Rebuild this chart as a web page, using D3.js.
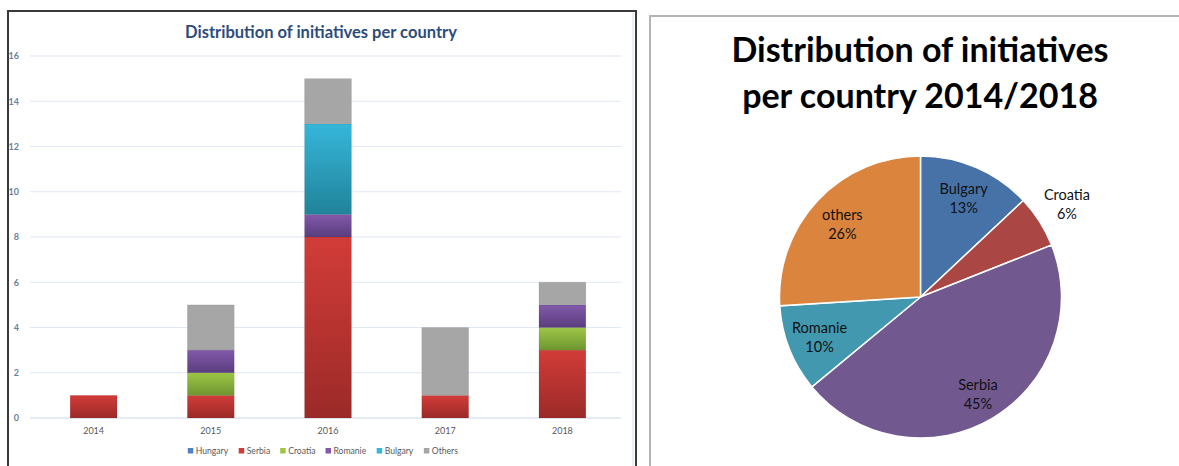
<!DOCTYPE html>
<html>
<head>
<meta charset="utf-8">
<script src="https://cdn.jsdelivr.net/npm/d3@7"></script>
<style>
	body { margin: 0; background: #fff; }
	svg { display: block; font-family: Lato, "Open Sans", sans-serif; }
</style>
</head>
<body>
<div id="chart"></div>
<script>
// bar chart data (initiatives per year, stacked by country)
var years = ["2014", "2015", "2016", "2017", "2018"];
var countries = ["Hungary", "Serbia", "Croatia", "Romanie", "Bulgary", "Others"];
var hungary = [0, 0, 0, 0, 0];
var serbia = [1, 1, 8, 1, 3];
var croatia = [0, 1, 0, 0, 1];
var romanie = [0, 1, 1, 0, 1];
var bulgary = [0, 0, 4, 0, 0];
var others = [0, 2, 2, 3, 1];
var yTicks = [0, 2, 4, 6, 8, 10, 12, 14, 16];

// pie data (share 2014/2018, percent)
var pieNames = ["Bulgary", "Croatia", "Serbia", "Romanie", "others"];
var pieShares = [13, 6, 45, 10, 26];

var W = 1179, H = 466;
var svg = d3.select("#chart").append("svg")
	.attr("width", W)
	.attr("height", H);

var defs = svg.append("defs");

// top / bottom colours of the bar gradients
var barColors = {
	"Hungary": ["#4f81c7", "#34609e"],
	"Serbia": ["#d23c38", "#9b2a28"],
	"Croatia": ["#9dc646", "#6e9631"],
	"Romanie": ["#8259aa", "#5a3d7e"],
	"Bulgary": ["#36b6da", "#20839a"],
	"Others": ["#a6a6a6", "#a6a6a6"]
};
countries.forEach(function(c) {
	var g = defs.append("linearGradient")
		.attr("id", "grad-" + c)
		.attr("x1", 0).attr("y1", 0).attr("x2", 0).attr("y2", 1);
	g.append("stop").attr("offset", "0%").attr("stop-color", barColors[c][0]);
	g.append("stop").attr("offset", "100%").attr("stop-color", barColors[c][1]);
});

// ---------- left panel: stacked bars ----------
svg.append("path")
	.attr("d", "M8,470 L8,11 L636,11 L636,470")
	.style("fill", "none")
	.style("stroke", "#3a3a3a")
	.style("stroke-width", 2);
svg.append("line")
	.attr("x1", 633).attr("x2", 633).attr("y1", 13).attr("y2", 470)
	.style("stroke", "#e3ebf6").style("stroke-width", 1.5);

svg.append("text")
	.attr("x", 321)
	.attr("y", 38)
	.attr("text-anchor", "middle")
	.style("font-size", "16.5px")
	.style("font-weight", "bold")
	.style("fill", "#2c4c7c")
	.text("Distribution of initiatives per country");

var x = d3.scaleBand()
	.domain(years)
	.range([35, 621])
	.paddingInner(0.6)
	.paddingOuter(0.3);

var y = d3.scaleLinear()
	.domain([0, 16])
	.range([418, 56]);

// gridlines
svg.append("g").selectAll("line")
		.data(yTicks)
	.enter().append("line")
		.attr("x1", 30)
		.attr("x2", 621)
		.attr("y1", function(d) { return y(d); })
		.attr("y2", function(d) { return y(d); })
		.style("stroke", function(d) { return d === 0 ? "#c9d8ec" : "#dfe8f4"; })
		.style("stroke-width", 1.2);

var yAxis = svg.append("g")
	.attr("transform", "translate(21,0)")
	.call(d3.axisLeft(y).tickValues(yTicks).tickSize(0).tickPadding(2));
yAxis.select(".domain").remove();
yAxis.selectAll("text")
	.style("font-family", "Lato, sans-serif")
	.style("font-size", "9px")
	.style("font-weight", "bold")
	.style("fill", "#6a7fa0");

var xAxis = svg.append("g")
	.attr("transform", "translate(0,426)")
	.call(d3.axisBottom(x).tickSize(0).tickPadding(2));
xAxis.select(".domain").remove();
xAxis.selectAll("text")
	.style("font-family", "Lato, sans-serif")
	.style("font-size", "9px")
	.style("fill", "#595959");

var seriesValues = {
	"Hungary": hungary, "Serbia": serbia, "Croatia": croatia,
	"Romanie": romanie, "Bulgary": bulgary, "Others": others
};
var table = years.map(function(yr, i) {
	var row = {year: yr};
	countries.forEach(function(c) { row[c] = seriesValues[c][i]; });
	return row;
});
var stack = d3.stack().keys(countries)(table);

var layer = svg.append("g").selectAll(".layer")
		.data(stack)
	.enter().append("g")
		.attr("class", "layer")
		.style("fill", function(d) { return "url(#grad-" + d.key + ")"; });

layer.selectAll("rect")
		.data(function(d) { return d.filter(function(p) { return p[1] > p[0]; }); })
	.enter().append("rect")
		.attr("x", function(d) { return x(d.data.year); })
		.attr("width", x.bandwidth())
		.attr("y", function(d) { return y(d[1]); })
		.attr("height", function(d) { return y(d[0]) - y(d[1]); })
		.style("stroke", "rgba(0,0,0,0.08)")
		.style("stroke-width", 0.8);

// legend
var legend = svg.append("g").attr("transform", "translate(0,453)");
var lx = 0;
var items = legend.selectAll(".item")
		.data(countries)
	.enter().append("g")
		.attr("class", "item");
items.append("rect")
	.attr("y", -5)
	.attr("width", 5.5)
	.attr("height", 5.5)
	.style("fill", function(d) { return barColors[d][0]; });
items.append("text")
	.attr("x", 8)
	.attr("y", 0.8)
	.style("font-size", "8.6px")
	.style("fill", "#595959")
	.text(function(d) { return d; });
items.each(function() {
	var w = this.getBBox().width;
	d3.select(this).attr("transform", "translate(" + lx + ",0)");
	lx += w + 10;
});
legend.attr("transform", "translate(" + (323 - (lx - 10) / 2) + ",453)");

// ---------- right panel: pie ----------
svg.append("path")
	.attr("d", "M650,470 L650,16 L1185,16")
	.style("fill", "none")
	.style("stroke", "#b4b4b4")
	.style("stroke-width", 2);

var titleLines = ["Distribution of initiatives", "per country 2014/2018"];
svg.append("g").selectAll("text")
		.data(titleLines)
	.enter().append("text")
		.attr("x", 920)
		.attr("y", function(d, i) { return 62 + i * 46; })
		.attr("text-anchor", "middle")
		.style("font-size", "34px")
		.style("font-weight", "bold")
		.style("fill", "#000")
		.text(function(d) { return d; });

var pieColors = ["#4672a8", "#aa4643", "#71588f", "#4198af", "#db843d"];
var R = 141;
var pieG = svg.append("g").attr("transform", "translate(920.5,297)");
var arcs = d3.pie().sort(null).value(function(d) { return d; })(pieShares);
var arc = d3.arc().innerRadius(0).outerRadius(R);

pieG.selectAll("path")
		.data(arcs)
	.enter().append("path")
		.attr("d", arc)
		.style("fill", function(d, i) { return pieColors[i]; })
		.style("stroke", "#fff")
		.style("stroke-width", 1.5);

var labelR = [0.77, 1.23, 0.8, 0.77, 0.76];
var labels = pieG.selectAll(".plabel")
		.data(arcs)
	.enter().append("text")
		.attr("class", "plabel")
		.attr("text-anchor", "middle")
		.style("font-size", "14.5px")
		.style("fill", "#111")
		.attr("transform", function(d, i) {
			var a = (d.startAngle + d.endAngle) / 2;
			var r = R * labelR[i];
			return "translate(" + (Math.sin(a) * r) + "," + (-Math.cos(a) * r) + ")";
		});
labels.append("tspan")
	.attr("x", 0).attr("dy", "-0.25em")
	.text(function(d, i) { return pieNames[i]; });
labels.append("tspan")
	.attr("x", 0).attr("dy", "1.3em")
	.text(function(d) { return d.data + "%"; });
</script>
</body>
</html>
